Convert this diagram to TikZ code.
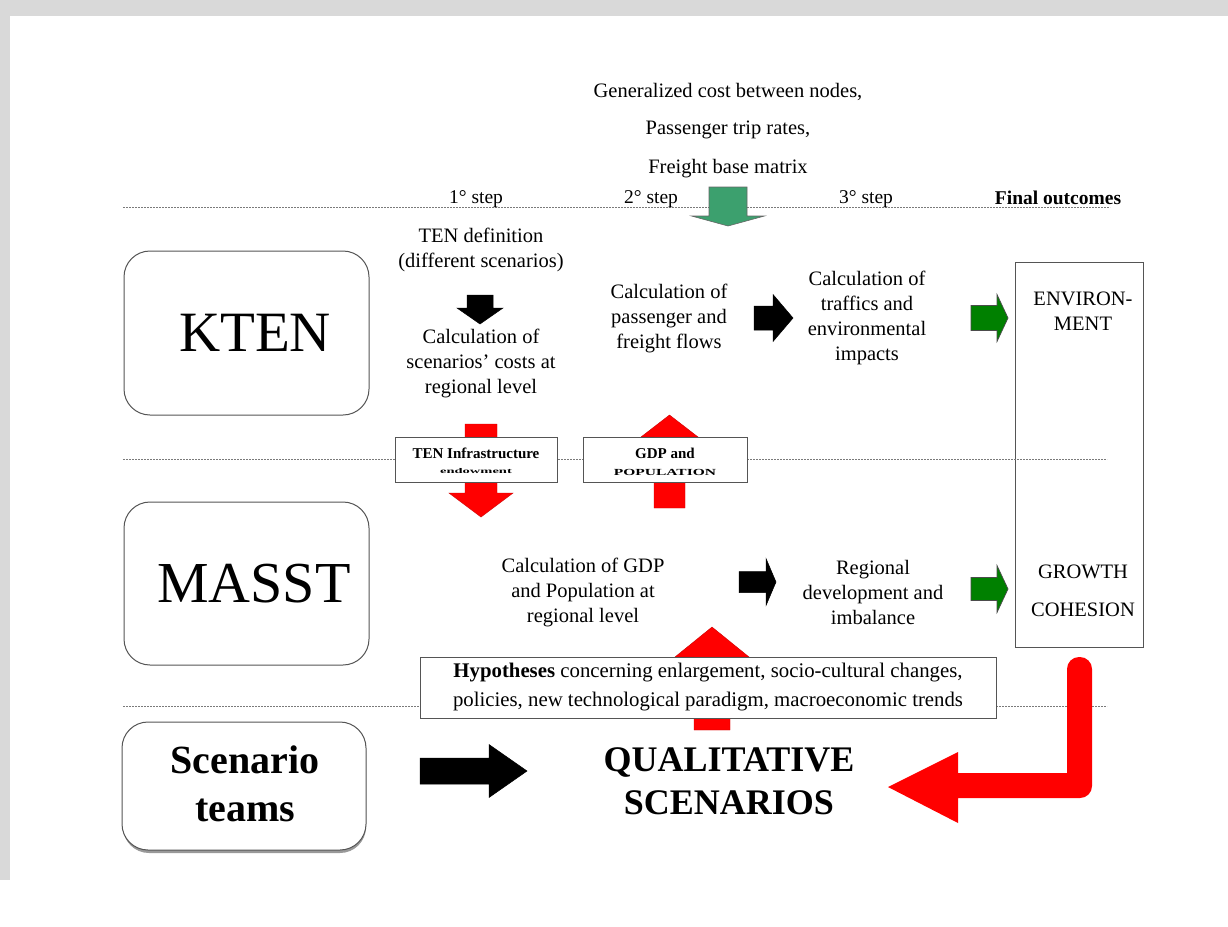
\documentclass[tikz,border=0pt]{standalone}
\usepackage{fontspec}
\usepackage{graphicx}
\setmainfont{Liberation Serif}
\definecolor{framegray}{HTML}{D9D9D9}
\definecolor{bordergray}{HTML}{555555}
\definecolor{dashgray}{HTML}{7A7A7A}
\definecolor{topgreen}{RGB}{60,160,110}
\definecolor{darkgreen}{RGB}{0,128,0}
\definecolor{arrred}{RGB}{255,0,0}
\newcommand{\fs}[2]{\fontsize{#1pt}{#2pt}\selectfont}
% horizontal block arrow: x start, x tip, x head start, y centre, shaft half, head half, style
\newcommand{\ArrR}[7]{\filldraw[#7] (#1,#4-#5) -- (#3,#4-#5) -- (#3,#4-#6) -- (#2,#4) -- (#3,#4+#6) -- (#3,#4+#5) -- (#1,#4+#5) -- cycle;}
% vertical block arrow: x centre, y start, y tip, y head start, shaft half, head half, style
\newcommand{\ArrV}[7]{\filldraw[#7] (#1-#5,#2) -- (#1+#5,#2) -- (#1+#5,#4) -- (#1+#6,#4) -- (#1,#3) -- (#1-#6,#4) -- (#1-#5,#4) -- cycle;}
\tikzset{
 txt/.style={align=center, inner sep=0pt, font=\fs{20.5}{25}},
 steptxt/.style={inner sep=0pt, font=\fs{19.5}{22}},
 bigtxt/.style={inner sep=0pt, font=\fs{58}{60}},
 rbox/.style={draw=bordergray, line width=1pt, rounded corners=26pt, fill=white},
 sqbox/.style={draw=bordergray, line width=1pt, fill=white, inner sep=0pt},
 dline/.style={draw=dashgray, line width=1pt, dash pattern=on 2pt off 1pt},
 blk/.style={fill=black, draw=black, line width=0.5pt},
 grn/.style={fill=darkgreen, draw=black!70, line width=0.7pt},
 tgrn/.style={fill=topgreen, draw=black!60, line width=0.6pt},
 rd/.style={fill=arrred, draw=arrred!80!black, line width=0.4pt},
}
\begin{document}
\begin{tikzpicture}[x=1pt,y=-1pt]
\useasboundingbox (0,0) rectangle (1228,926);
\fill[white] (0,0) rectangle (1228,926);
\fill[framegray] (0,0) rectangle (1228,16);
\fill[framegray] (0,0) rectangle (10,880);

% top inputs
\node[txt] (g1) at (728,92) {Generalized cost between nodes,};
\node[txt] (g2) at (728,130) {Passenger trip rates,};
\node[txt] (g3) at (728,169) {Freight base matrix};

% top dashed line and step labels
\draw[dline] (123,207) -- (1110,207);
\node[steptxt] (s1) at (476,199) {1° step};
\node[steptxt] (s2) at (651,199) {2° step};
\node[steptxt] (s3) at (866,199) {3° step};
\node[steptxt, font=\fs{19.5}{22}\bfseries] (fo) at (1058,198) {Final outcomes};
\ArrV{728}{187}{226}{216}{19}{36.5}{tgrn}

% outcome box
\node[sqbox, minimum width=128, minimum height=385] (out) at (1079,454.5) {};
\node[txt] (env) at (1083,311) {ENVIRON-\\MENT};
\node[txt] (gro) at (1083,572) {GROWTH};
\node[txt] (coh) at (1083,610) {COHESION};

% other dashed lines
\draw[dline] (123,459) -- (1107,459);
\draw[dline] (123,706) -- (1107,706);

% model boxes
\node[rbox, minimum width=245, minimum height=164] (kten) at (246.5,333) {};
\node[bigtxt, font=\fs{57}{60}] (ktentxt) at (255,333) {KTEN};
\node[rbox, minimum width=245, minimum height=163] (masst) at (246.5,583.5) {};
\node[bigtxt] (massttxt) at (254,584) {MASST};
\fill[black!40, rounded corners=26pt] (123,725) rectangle (366,853);
\node[rbox, minimum width=244, minimum height=128] (scen) at (244,786) {};
\node[align=center, inner sep=0pt, font=\fs{40}{48}\bfseries] (scentxt) at (245,784) {Scenario\\teams};

% KTEN row
\node[txt] (tendef) at (481,249.5) {TEN definition\\(different scenarios)};
\ArrV{480}{295}{324}{308}{13}{23}{blk}
\node[txt] (calc1) at (481,363) {Calculation of\\scenarios’ costs at\\regional level};
\node[txt] (calc2) at (669,318) {Calculation of\\passenger and\\freight flows};
\ArrR{754}{793}{773}{318}{12}{23.5}{blk}
\node[txt] (calc3) at (867,317.5) {Calculation of\\traffics and\\environmental\\impacts};
\ArrR{971}{1008}{997}{318}{12.5}{23.5}{grn}

% interface arrows and boxes
\ArrV{481}{424}{517}{493}{16}{32}{rd}
\ArrV{669.5}{508}{415}{437}{15.5}{28.5}{rd}
\node[sqbox, minimum width=162, minimum height=45] (tenbox) at (476,459.5) {};
\node[inner sep=0pt, font=\fs{15}{17}\bfseries] (tenl1) at (476,453) {TEN Infrastructure};
\node[inner sep=0pt] (tenl2) at (476,471) {\scalebox{1}[0.5]{\fs{14.5}{15}\bfseries endowment}};
\node[sqbox, minimum width=164, minimum height=45] (gdpbox) at (665,459.5) {};
\node[inner sep=0pt, font=\fs{15}{17}\bfseries] (gdpl1) at (665,453) {GDP and};
\node[inner sep=0pt] (gdpl2) at (665,472) {\scalebox{1}[0.6]{\fs{15.5}{15}\bfseries POPULATION}};

% MASST row
\node[txt] (calc4) at (583,592) {Calculation of GDP\\and Population at\\regional level};
\ArrR{739}{776}{766}{582}{10.5}{23.5}{blk}
\node[txt] (regdev) at (873,592) {Regional\\development and\\imbalance};
\ArrR{971}{1008}{997}{589}{11.5}{23.5}{grn}

% hypotheses
\ArrV{712}{730}{627}{657}{18}{37}{rd}
\node[sqbox, minimum width=576, minimum height=61, align=center, font=\fs{20.8}{29}] (hyp) at (708,687.5) {\textbf{Hypotheses} concerning enlargement, socio-cultural changes,\\policies, new technological paradigm, macroeconomic trends};

% scenario row
\ArrR{420}{527}{489}{771}{13}{26.5}{blk}
\node[align=center, inner sep=0pt, font=\fs{36}{43}\bfseries] (qual) at (729,781.5) {QUALITATIVE\\SCENARIOS};
\fill[arrred] (958,773) -- (1067,773) [rounded corners=12pt] -- (1067,657) -- (1092,657) -- (1092,798) [sharp corners] -- (958,798) -- (958,823) -- (888,787) -- (958,752) -- cycle;
\end{tikzpicture}
\end{document}
